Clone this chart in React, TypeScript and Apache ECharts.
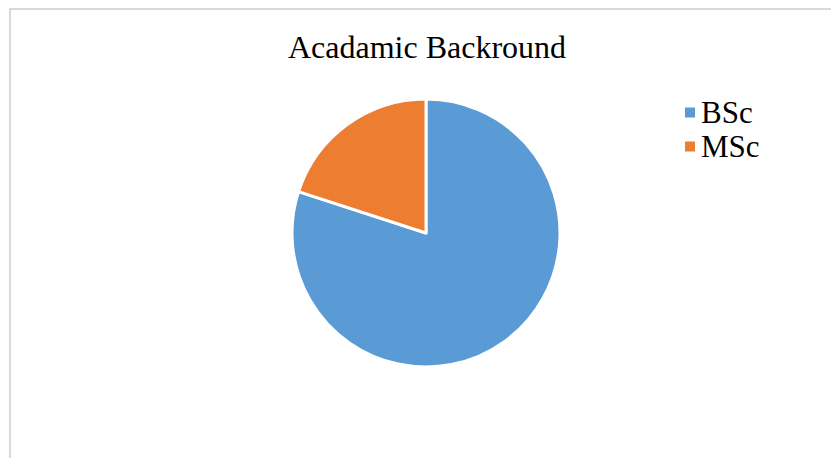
import React, { useEffect, useRef } from "react";
import * as echarts from "echarts";

const titleText = "Acadamic Backround";
const categories = ["BSc", "MSc"];
const values = [80, 20];
const colors = ["#5B9BD5", "#ED7D31"];

export default function App() {
  const ref = useRef<HTMLDivElement>(null);
  useEffect(() => {
    const chart = echarts.init(ref.current!, null, { renderer: "svg" });
    chart.setOption({
      animation: false,
      backgroundColor: "#ffffff",
      title: {
        text: titleText,
        left: 283,
        top: 26,
        textStyle: {
          fontFamily: "Liberation Serif",
          fontWeight: "normal",
          fontSize: 32,
          color: "#000000",
        },
      },
      legend: {
        orient: "vertical",
        left: 678,
        top: 92,
        itemWidth: 12,
        itemHeight: 12,
        itemGap: 3,
        icon: "rect",
        data: categories,
        textStyle: {
          fontFamily: "Liberation Serif",
          fontSize: 31,
          color: "#000000",
          padding: [0, 0, 0, 0],
        },
      },
      graphic: [
        {
          type: "rect",
          shape: { x: 10, y: 9, width: 900, height: 500 },
          style: { fill: "none", stroke: "#d9d9d9", lineWidth: 2 },
          silent: true,
        },
      ],
      series: [
        {
          type: "pie",
          center: [426, 233],
          radius: 134,
          startAngle: 90,
          clockwise: true,
          label: { show: false },
          labelLine: { show: false },
          itemStyle: { borderColor: "#ffffff", borderWidth: 3 },
          data: categories.map((c, i) => ({
            name: c,
            value: values[i],
            itemStyle: { color: colors[i] },
          })),
        },
      ],
    });
    return () => chart.dispose();
  }, []);
  return (
    <div
      ref={ref}
      style={{ position: "absolute", left: 0, top: 0, width: 831, height: 458 }}
    />
  );
}
